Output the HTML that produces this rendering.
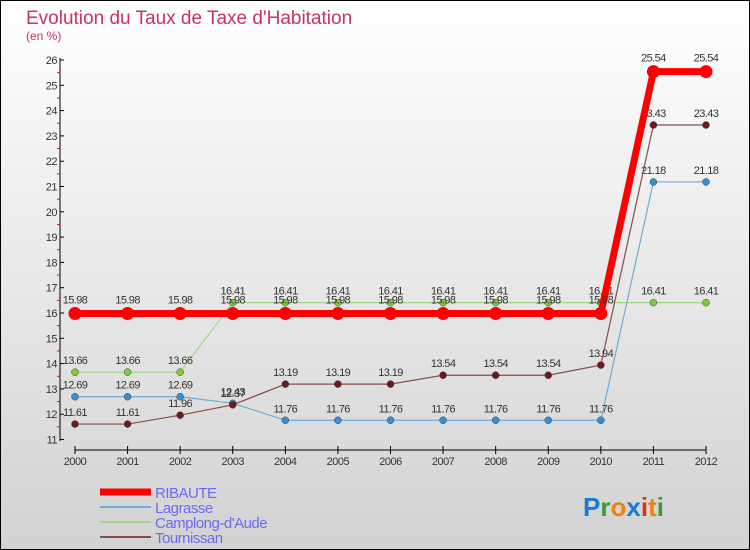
<!DOCTYPE html>
<html><head><meta charset="utf-8"><style>
body{margin:0}
#c{width:750px;height:550px;position:relative;overflow:hidden;font-family:"Liberation Sans",sans-serif}
</style></head><body>
<div id="c">
<svg id="s" width="750" height="550" xmlns="http://www.w3.org/2000/svg">
<defs><linearGradient id="bg" x1="0" y1="0" x2="0" y2="1"><stop offset="0" stop-color="#ffffff"/><stop offset="1" stop-color="#d2d2d2"/></linearGradient></defs>
<rect x="0.5" y="0.5" width="749" height="549" fill="url(#bg)" stroke="#000"/>
<text x="26" y="24" font-size="19" fill="#c8335f">Evolution du Taux de Taxe d'Habitation</text>
<text x="26" y="40" font-size="12" fill="#c8335f">(en %)</text>
<g id="axes"></g><g id="series"></g><g id="legend"></g>
<text x="583" y="516" font-size="26" font-weight="bold"><tspan fill="#1a7ad0">P</tspan><tspan fill="#3a9a3a">r</tspan><tspan fill="#f08010">o</tspan><tspan fill="#1a7ad0">x</tspan><tspan fill="#e03010">i</tspan><tspan fill="#f08010">t</tspan><tspan fill="#3a9a3a">i</tspan></text>
</svg></div>
<script>
const years=[2000,2001,2002,2003,2004,2005,2006,2007,2008,2009,2010,2011,2012];
const yTicks=[11,12,13,14,15,16,17,18,19,20,21,22,23,24,25,26];
const ribaute=[15.98,15.98,15.98,15.98,15.98,15.98,15.98,15.98,15.98,15.98,15.98,25.54,25.54];
const lagrasse=[12.69,12.69,12.69,12.43,11.76,11.76,11.76,11.76,11.76,11.76,11.76,21.18,21.18];
const camplong=[13.66,13.66,13.66,16.41,16.41,16.41,16.41,16.41,16.41,16.41,16.41,16.41,16.41];
const tournissan=[11.61,11.61,11.96,12.37,13.19,13.19,13.19,13.54,13.54,13.54,13.94,23.43,23.43];
const seriesNames=["RIBAUTE","Lagrasse","Camplong-d'Aude","Tournissan"];
const NS="http://www.w3.org/2000/svg";
function xS(i){return 75+i*(706-75)/(years.length-1);}
function yS(v){return 439.5-(v-11)*(439.5-60)/15;}
function mk(tag,attrs,parent,txt){const e=document.createElementNS(NS,tag);for(const k in attrs)e.setAttribute(k,attrs[k]);if(txt!==undefined)e.textContent=txt;parent.appendChild(e);return e;}
const axes=document.getElementById('axes');
let el=mk('line',{x1:60,y1:58,x2:60,y2:441,stroke:'#000'},axes);


el=mk('line',{x1:75,y1:450,x2:706,y2:450,stroke:'#000'},axes);


yTicks.forEach(v=>{const y=yS(v);
 mk('line',{x1:60,y1:y,x2:64,y2:y,stroke:'#000'},axes);
 if(v<26)mk('line',{x1:57,y1:yS(v+0.5),x2:60,y2:yS(v+0.5),stroke:'#f00'},axes);
 el=mk('text',{x:57,y:y+4,'font-size':11,fill:'#333','text-anchor':'end','letter-spacing':'-0.5'},axes,String(v));
 
 
});
years.forEach((yr,i)=>{const x=xS(i);
 mk('line',{x1:x,y1:446,x2:x,y2:454,stroke:'#000'},axes);
 el=mk('text',{x:x,y:465,'font-size':11,fill:'#333','text-anchor':'middle','letter-spacing':'-0.5'},axes,String(yr));
 
 
});
const sg=document.getElementById('series');
function drawSeries(vals,color,lw,r,ptColor,name,labelDy){
 const g=mk('g',{},sg);
 
 
 const pts=vals.map((v,i)=>xS(i)+','+yS(v)).join(' ');
 mk('polyline',{points:pts,fill:'none',stroke:color,'stroke-width':lw},g);
 vals.forEach((v,i)=>{
  const c=mk('circle',{cx:xS(i),cy:yS(v),r:r,fill:ptColor,stroke:'#444','stroke-width':r>5?0:0.5},g);
  
  
  const t=mk('text',{x:xS(i),y:yS(v)+labelDy,'font-size':11,fill:'#333','text-anchor':'middle','letter-spacing':'-0.6'},g,v.toFixed(2).replace(/0$/,'').replace(/\.$/,''));
  t.textContent=(Math.round(v*100)/100).toString();
  
  
 });
}
drawSeries(camplong,'#9fd88a',1.2,3.5,'#7ccc3a','camplong',-8);
drawSeries(lagrasse,'#6aaed8',1.2,3.5,'#3a8ed0','lagrasse',-8);
drawSeries(tournissan,'#8a4a4a',1.2,3.5,'#6a1a1a','tournissan',-8);
drawSeries(ribaute,'#ff0000',7,6.5,'#ff0000','ribaute',-10);
const lg=document.getElementById('legend');
const lc=['#ff0000','#6aaed8','#9fd88a','#8a4a4a'],lw=[7,2,2,2];
seriesNames.forEach((n,i)=>{const y=492+i*15;
 const g=mk('g',{},lg);
 
 
 mk('line',{x1:100,y1:y,x2:151,y2:y,stroke:lc[i],'stroke-width':lw[i]},g);
 mk('text',{x:155,y:y+6,'font-size':15,fill:'#6a6af0','letter-spacing':'-0.5'},g,n);
});
</script>
</body></html>
